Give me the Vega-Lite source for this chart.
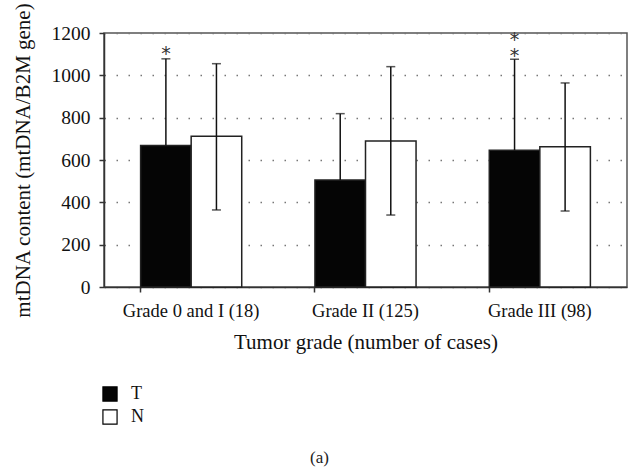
{
  "$schema": "https://vega.github.io/schema/vega-lite/v6.json",
  "autosize": {"type": "none"},
  "padding": {"left": 104, "top": 33, "right": 5, "bottom": 182},
  "width": 523,
  "height": 254,
  "background": "white",
  "title": {"text": "(a)", "orient": "bottom", "frame": "bounds", "anchor": "middle", "font": "Liberation Serif", "fontSize": 17, "fontWeight": "normal", "color": "#222", "offset": 23},
  "config": {
    "view": {"stroke": "#555", "strokeWidth": 1.5},
    "font": "Liberation Serif",
    "axis": {"labelFont": "Liberation Serif", "titleFont": "Liberation Serif", "labelColor": "#111", "titleColor": "#111", "titleFontWeight": "normal", "domainColor": "#333", "tickColor": "#333", "domainWidth": 1.5, "tickWidth": 1.5}
  },
  "datasets": {
    "bars": [
      {"grade": "Grade 0 and I (18)", "group": "T", "mean": 669, "lo": 669, "hi": 1078},
      {"grade": "Grade 0 and I (18)", "group": "N", "mean": 712, "lo": 364, "hi": 1055},
      {"grade": "Grade II (125)", "group": "T", "mean": 505, "lo": 505, "hi": 819},
      {"grade": "Grade II (125)", "group": "N", "mean": 690, "lo": 340, "hi": 1041},
      {"grade": "Grade III (98)", "group": "T", "mean": 646, "lo": 646, "hi": 1076},
      {"grade": "Grade III (98)", "group": "N", "mean": 663, "lo": 359, "hi": 964}
    ],
    "stars": [
      {"grade": "Grade 0 and I (18)", "group": "T", "pos": 1118, "mark": "*"},
      {"grade": "Grade III (98)", "group": "T", "pos": 1112, "mark": "*"},
      {"grade": "Grade III (98)", "group": "T", "pos": 1188, "mark": "*"}
    ]
  },
  "data": {"name": "bars"},
  "encoding": {
    "x": {"field": "grade", "type": "nominal", "sort": ["Grade 0 and I (18)", "Grade II (125)", "Grade III (98)"],
      "scale": {"paddingInner": 0.42, "paddingOuter": 0.21},
      "axis": {"title": "Tumor grade (number of cases)", "labelAngle": 0, "labelFontSize": 18.5, "titleFontSize": 21, "labelPadding": 9, "titlePadding": 12, "tickSize": 5, "bandPosition": 0, "grid": false}},
    "xOffset": {"field": "group", "type": "nominal", "sort": ["T", "N"], "scale": {"paddingInner": 0, "paddingOuter": 0}}
  },
  "layer": [
    {
      "mark": {"type": "bar", "stroke": "#222", "strokeWidth": 1.5},
      "encoding": {
        "y": {"field": "mean", "type": "quantitative",
          "scale": {"domain": [0, 1200], "nice": false},
          "axis": {"title": "mtDNA content (mtDNA/B2M gene)", "format": "d", "values": [0, 200, 400, 600, 800, 1000, 1200], "labelFontSize": 19.5, "titleFontSize": 21, "labelPadding": 9, "titlePadding": 18, "tickSize": 5, "grid": true, "gridDash": [1.5, 10.5], "gridColor": "#777", "gridWidth": 1.5}},
        "fill": {"field": "group", "type": "nominal", "sort": ["T", "N"],
          "scale": {"domain": ["T", "N"], "range": ["#050505", "#ffffff"]},
          "legend": {"title": null, "orient": "none", "legendX": -3, "legendY": 352, "direction": "vertical", "symbolType": "square", "symbolSize": 200, "symbolStrokeColor": "#000", "symbolStrokeWidth": 1.2, "labelFont": "Liberation Serif", "labelFontSize": 18, "labelColor": "#111", "rowPadding": 3, "labelOffset": 12}}
      }
    },
    {
      "mark": {"type": "rule", "color": "#111", "strokeWidth": 1.5},
      "encoding": {"y": {"field": "lo", "type": "quantitative"}, "y2": {"field": "hi"}}
    },
    {
      "mark": {"type": "tick", "color": "#111", "thickness": 1.5, "size": 9},
      "encoding": {"y": {"field": "hi", "type": "quantitative"}}
    },
    {
      "transform": [{"filter": "datum.group == 'N'"}],
      "mark": {"type": "tick", "color": "#111", "thickness": 1.5, "size": 9},
      "encoding": {"y": {"field": "lo", "type": "quantitative"}}
    },
    {
      "data": {"name": "stars"},
      "mark": {"type": "text", "font": "DejaVu Sans", "fontSize": 19, "color": "#333", "baseline": "alphabetic", "dy": 10},
      "encoding": {"y": {"field": "pos", "type": "quantitative"}, "text": {"field": "mark"}}
    }
  ]
}
